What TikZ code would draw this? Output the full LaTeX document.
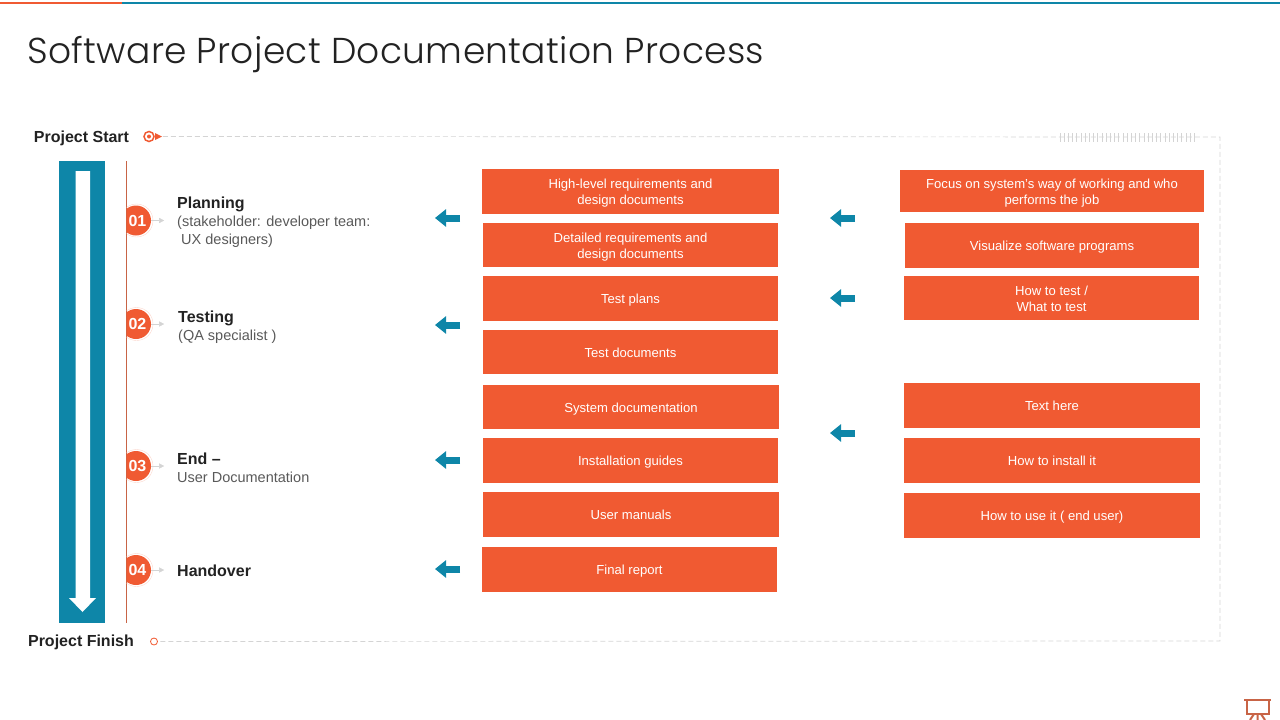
\documentclass[tikz,border=0pt]{standalone}
\usepackage{fontspec}
\setmainfont{Liberation Sans}
\newfontfamily\titlefont[LetterSpace=0.9]{Poppins Light}
\usetikzlibrary{arrows.meta, positioning}
\definecolor{docorange}{RGB}{240,90,50}
\definecolor{docblue}{RGB}{14,134,168}
\definecolor{docline}{RGB}{200,100,70}
\definecolor{doctext}{RGB}{34,34,34}
\definecolor{docgrey}{RGB}{89,89,89}
\definecolor{docdash}{RGB}{212,212,212}
\tikzset{
	docbox/.style={fill=docorange, text=white, inner sep=0pt, align=center, font=\fontsize{13.1}{16}\selectfont},
	numdisc/.style={circle, fill=docorange, text=white, minimum size=30pt, inner sep=0pt, font=\bfseries\fontsize{16}{16}\selectfont},
	steplabel/.style={anchor=west, inner sep=0pt, align=left, text=docgrey, font=\fontsize{14.5}{18}\selectfont},
	endlabel/.style={inner sep=0pt, text=doctext, font=\bfseries\fontsize{16}{18}\selectfont},
	blockarrow/.style={docblue, line width=7pt, -{Triangle[length=11pt,width=17pt]}},
	smallarrow/.style={docdash, -{Triangle[length=5pt,width=5pt]}},
	dashline/.style={docdash, line width=0.7pt, dash pattern=on 5pt off 3pt}
}
\newcommand{\docnode}[6]{
	\node[docbox, minimum width={#4-#2}, minimum height={#5-#3}] (#1) at ({(#2+#4)/2},{(#3+#5)/2}) {\rule{0pt}{13.6pt}#6\rule[-3.6pt]{0pt}{3.6pt}};
}
\newcommand{\stepnode}[5]{
	\begin{scope}
		\clip (126.5,#2-20) rectangle (160,#2+20);
		\node[circle, draw=docorange!25, minimum size=33pt] (halo#1) at (136.5,#2) {};
		\node[numdisc] (num#1) at (136,#2) {\hspace{3pt}#1};
	\end{scope}
	\node[steplabel] (lab#1) at (#3,#4) {#5};
	\draw[smallarrow] (num#1.east) -- ++(13,0);
}
\newcommand{\leftarrowblock}[3]{
	\coordinate (#1a) at (#2,#3);
	\coordinate (#1b) at (#2-25,#3);
	\draw[blockarrow] (#1a) -- (#1b);
}
\newcommand{\boldpart}[1]{{\bfseries\fontsize{16}{18}\selectfont\color{doctext}#1}}
\begin{document}
\begin{tikzpicture}[x=1pt, y=-1pt]
	\useasboundingbox (0,0) rectangle (1280,720);
	% top rule
	\fill[docorange] (0,1.5) rectangle (122,3.5);
	\fill[docblue] (122,1.5) rectangle (1280,3.5);
	\node[anchor=west, inner sep=0pt, text=doctext, font=\titlefont\fontsize{36}{40}\selectfont] (title) at (27,55) {Software Project Documentation Process};
	% start and finish
	\node[endlabel] (start) at (81.5,138) {Project Start};
	\node[endlabel] (finish) at (81,642) {Project Finish};
	\node[circle, draw=docorange, line width=1.5pt, minimum size=10pt, inner sep=0pt] (startmark) at (149,136.5) {};
	\fill[docorange] (startmark) circle (2);
	\fill[docorange] (155,133) -- (162,136.5) -- (155,140) -- cycle;
	\node[circle, draw=docorange, line width=0.8pt, minimum size=7pt, inner sep=0pt] (finishmark) at (154,641.5) {};
	\coordinate (cornerA) at (1220,137);
	\coordinate (cornerB) at (1220,641);
	\draw[dashline] (startmark.east) ++(8,0) -- (cornerA) -- (cornerB) -- (finishmark.east);
	\foreach \i in {0,...,32}
		\draw[docdash, line width=0.8pt] (1060+\i*4.2,133) -- (1060+\i*4.2,142);
	% big arrow
	\fill[docblue] (59,161) rectangle (105,623);
	\fill[white] (75.5,171) -- (90,171) -- (90,598) -- (96,598) -- (82.5,612) -- (69,598) -- (75.5,598) -- cycle;
	\draw[docline, line width=1pt] (126.5,161) -- (126.5,623);
	% steps
	\stepnode{01}{220.5}{177}{222}{\boldpart{Planning}\\(stakeholder: developer team:\\\ UX designers)}
	\stepnode{02}{324}{178}{327}{\boldpart{Testing}\\(QA specialist )}
	\stepnode{03}{466}{177}{468}{\boldpart{End --}\\User Documentation}
	\stepnode{04}{570}{177}{571}{\boldpart{Handover}}
	% middle column
	\docnode{mid1}{482}{169}{779}{214}{High-level  requirements  and\\design documents}
	\docnode{mid2}{483}{223}{778}{267}{Detailed requirements  and\\design documents}
	\docnode{mid3}{483}{276}{778}{321}{Test plans}
	\docnode{mid4}{483}{330}{778}{374}{Test documents}
	\docnode{mid5}{483}{385}{779}{429}{System documentation}
	\docnode{mid6}{483}{438}{778}{483}{Installation guides}
	\docnode{mid7}{483}{492}{779}{537}{User manuals}
	\docnode{mid8}{482}{547}{777}{592}{Final report}
	% right column
	\docnode{right1}{900}{170}{1204}{212}{Focus on system's way of working and who\\performs  the job}
	\docnode{right2}{905}{223}{1199}{268}{Visualize software programs}
	\docnode{right3}{904}{276}{1199}{320}{How to test /\\What to test}
	\docnode{right4}{904}{383}{1200}{428}{Text here}
	\docnode{right5}{904}{438}{1200}{483}{How to install it}
	\docnode{right6}{904}{493}{1200}{538}{How to use it ( end user)}
	% arrows
	\leftarrowblock{midA}{460}{218}
	\leftarrowblock{midB}{460}{325}
	\leftarrowblock{midC}{460}{460}
	\leftarrowblock{midD}{460}{569}
	\leftarrowblock{rightA}{855}{218}
	\leftarrowblock{rightB}{855}{298}
	\leftarrowblock{rightC}{855}{433}
	% presentation icon
	\draw[docline, line width=2pt] (1244,700) -- (1271,700);
	\draw[docline, line width=2pt] (1246.5,700) -- (1246.5,714) -- (1268.5,714) -- (1268.5,700);
	\draw[docline, line width=2pt] (1257.5,714) -- (1257.5,720) (1254,714) -- (1250,720) (1261,714) -- (1265,720);
\end{tikzpicture}
\end{document}
